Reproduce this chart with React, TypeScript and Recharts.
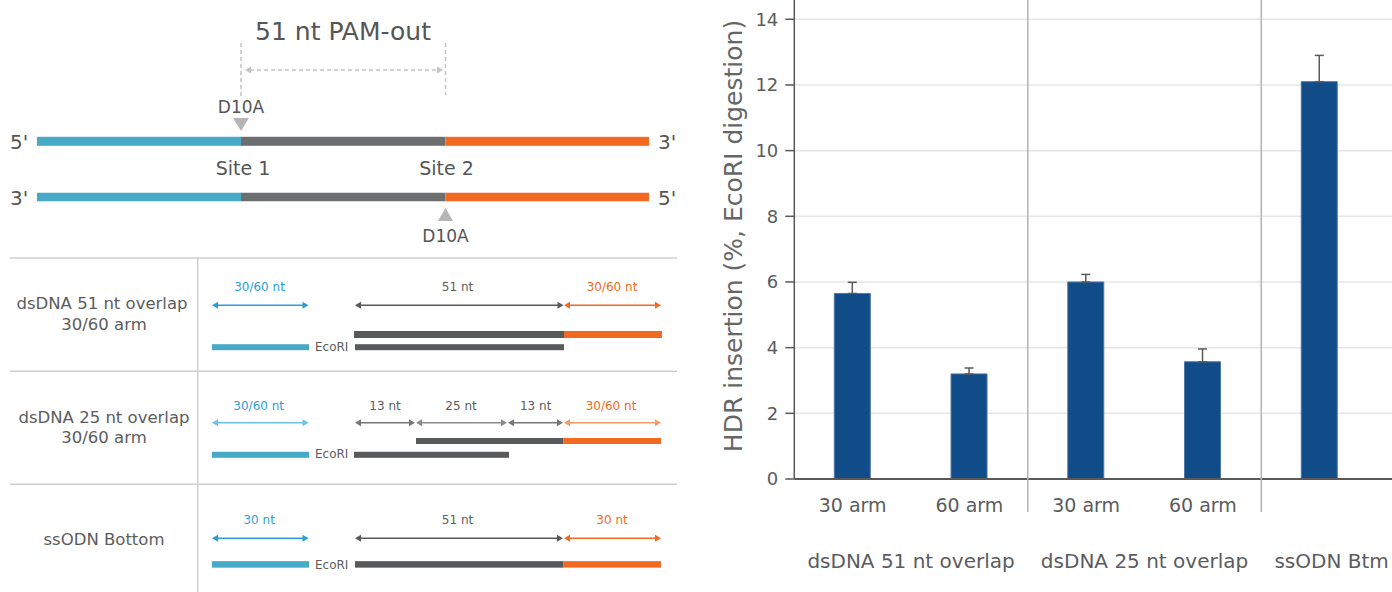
import { BarChart, Bar, ErrorBar, XAxis, YAxis, CartesianGrid } from "recharts";

// chart values
const armLabels = ["30 arm", "60 arm", "30 arm", "60 arm", ""];
const groupLabels = ["dsDNA 51 nt overlap", "dsDNA 25 nt overlap", "ssODN Btm"];
const groupOf = [0, 0, 1, 1, 2];
const hdrPct = [5.65, 3.2, 6.0, 3.57, 12.1];
const errUp = [0.34, 0.18, 0.23, 0.39, 0.8];
const yTicks = [0, 2, 4, 6, 8, 10, 12, 14];

const rows = hdrPct.map((v, i) => ({
  id: `c${i}`,
  arm: armLabels[i],
  group: groupOf[i],
  hdr: v,
  err: [0, errUp[i]],
}));

const FONT = "'DejaVu Sans', 'Open Sans', sans-serif";
const TXT = "#5b5c5e";

// chart geometry
const CW = 700;
const CH = 672;
const Y_AXIS_W = 94.3;
const X_AXIS_H = 113;
const PAD_R = 22;
const BAND = (CW - Y_AXIS_W - PAD_R) / rows.length;
const PLOT_BOTTOM = CH - X_AXIS_H;
const GROUP_NUDGE = [0, 0, 12]; // last group label sits a bit right of its bar

function ArmTick(props: any) {
  const { x, y, payload } = props;
  const i = payload.index;
  const r = rows[i];
  const showGroup = i === 0 || groupOf[i] !== groupOf[i - 1];
  const lastInGroup = i < rows.length - 1 && groupOf[i] !== groupOf[i + 1];
  const groupSize = groupOf.filter((g) => g === r.group).length;
  const gx = x + ((groupSize - 1) * BAND) / 2 + GROUP_NUDGE[r.group];
  return (
    <g>
      {r.arm && (
        <text x={x} y={y + 33} textAnchor="middle" fontSize={19} fill={TXT} fontFamily={FONT}>
          {r.arm}
        </text>
      )}
      {showGroup && (
        <text x={gx} y={y + 89} textAnchor="middle" fontSize={20} fill={TXT} fontFamily={FONT}>
          {groupLabels[r.group]}
        </text>
      )}
      {lastInGroup && (
        <line x1={x + BAND / 2} x2={x + BAND / 2} y1={y - PLOT_BOTTOM} y2={y + 33} stroke="#b3b3b3" strokeWidth={1.5} />
      )}
    </g>
  );
}

const renderYLabel = () => (
  <text
    x={33}
    y={316}
    transform="rotate(-90 33 316)"
    textAnchor="middle"
    dominantBaseline="central"
    fontSize={25}
    fill="#666"
    fontFamily={FONT}
  >
    HDR insertion (%, EcoRI digestion)
  </text>
);

// ---------- left schematic ----------
const BLUE = "#46a9c5";
const ARROW_BLUE = "#2a9ed8";
const LIGHT_BLUE = "#6cc0ea";
const STRAND_GRAY = "#6d6e70";
const BAR_GRAY = "#58595b";
const ORANGE = "#f26a22";
const LIGHT_ORANGE = "#f59a6a";

function DArrow({ x1, x2, y, color }: { x1: number; x2: number; y: number; color: string }) {
  const h = 6;
  return (
    <g>
      <line x1={x1 + 2} x2={x2 - 2} y1={y} y2={y} stroke={color} strokeWidth={1.5} />
      <polygon points={`${x1},${y} ${x1 + h},${y - 3.5} ${x1 + h},${y + 3.5}`} fill={color} />
      <polygon points={`${x2},${y} ${x2 - h},${y - 3.5} ${x2 - h},${y + 3.5}`} fill={color} />
    </g>
  );
}

function Label({ x, y, children, size = 12, color = TXT, anchor = "middle" }: any) {
  return (
    <text x={x} y={y} fontSize={size} fill={color} textAnchor={anchor} fontFamily={FONT}>
      {children}
    </text>
  );
}

function Seg({ x1, x2, y, h, color }: any) {
  return <rect x={x1} y={y - h / 2} width={x2 - x1} height={h} fill={color} />;
}

function Schematic() {
  const L = 37, S1 = 241, S2 = 445.5, R = 649;
  return (
    <svg width={700} height={592} style={{ position: "absolute", left: 0, top: 0 }}>
      {/* top: PAM-out nick layout */}
      <Label x={343} y={40} size={25} color="#555">51 nt PAM-out</Label>
      <line x1={S1} x2={S1} y1={43} y2={97} stroke="#c4c4c4" strokeWidth={1.5} strokeDasharray="4 3" />
      <line x1={S2} x2={S2} y1={43} y2={95} stroke="#c4c4c4" strokeWidth={1.5} strokeDasharray="4 3" />
      <line x1={250} x2={438} y1={70} y2={70} stroke="#c4c4c4" strokeWidth={1.5} strokeDasharray="4 3" />
      <polygon points={`245,70 251,66.5 251,73.5`} fill="#c4c4c4" />
      <polygon points={`443,70 437,66.5 437,73.5`} fill="#c4c4c4" />

      <Label x={S1} y={113} size={17} color="#555">D10A</Label>
      <polygon points={`${S1 - 8},118 ${S1 + 8},118 ${S1},131`} fill="#b5b5b5" />
      <Seg x1={L} x2={S1} y={141.3} h={9} color={BLUE} />
      <Seg x1={S1} x2={S2} y={141.3} h={9} color={STRAND_GRAY} />
      <Seg x1={S2} x2={R} y={141.3} h={9} color={ORANGE} />
      <Label x={10} y={149} size={20} color="#555" anchor="start">5'</Label>
      <Label x={658} y={149} size={20} color="#555" anchor="start">3'</Label>

      <Label x={243} y={175} size={19} color="#555">Site 1</Label>
      <Label x={446.5} y={175} size={19} color="#555">Site 2</Label>

      <Seg x1={L} x2={S1} y={197} h={8.5} color={BLUE} />
      <Seg x1={S1} x2={S2} y={197} h={8.5} color={STRAND_GRAY} />
      <Seg x1={S2} x2={R} y={197} h={8.5} color={ORANGE} />
      <Label x={10} y={205} size={20} color="#555" anchor="start">3'</Label>
      <Label x={658} y={205} size={20} color="#555" anchor="start">5'</Label>
      <polygon points={`${S2 - 7.5},221 ${S2 + 7.5},221 ${S2},208`} fill="#b5b5b5" />
      <Label x={S2} y={242} size={17} color="#555">D10A</Label>

      {/* table */}
      {[258, 371.3, 484.3].map((y) => (
        <line key={y} x1={10} x2={677} y1={y} y2={y} stroke="#cfcfcf" strokeWidth={1.5} />
      ))}
      <line x1={197.7} x2={197.7} y1={258} y2={592} stroke="#cfcfcf" strokeWidth={1.5} />

      {/* row 1 */}
      <Label x={102} y={309} size={16.5}>dsDNA 51 nt overlap</Label>
      <Label x={104} y={330} size={16.5}>30/60 arm</Label>
      <Label x={259.5} y={291} color={ARROW_BLUE}>30/60 nt</Label>
      <Label x={457.5} y={291}>51 nt</Label>
      <Label x={612} y={291} color={ORANGE}>30/60 nt</Label>
      <DArrow x1={212} x2={308.5} y={305.3} color={ARROW_BLUE} />
      <DArrow x1={355} x2={563.5} y={305.3} color={BAR_GRAY} />
      <DArrow x1={564} x2={661} y={305.3} color={ORANGE} />
      <Seg x1={354} x2={564} y={334.5} h={7} color={BAR_GRAY} />
      <Seg x1={564} x2={662} y={334.5} h={7} color={ORANGE} />
      <Seg x1={212} x2={309} y={347.2} h={6} color={BLUE} />
      <Label x={315} y={351} anchor="start">EcoRI</Label>
      <Seg x1={355} x2={564} y={347.2} h={6} color={BAR_GRAY} />

      {/* row 2 */}
      <Label x={104} y={423} size={16.5}>dsDNA 25 nt overlap</Label>
      <Label x={104} y={443} size={16.5}>30/60 arm</Label>
      <Label x={258.7} y={410} color={ARROW_BLUE}>30/60 nt</Label>
      <Label x={385} y={410}>13 nt</Label>
      <Label x={461} y={410}>25 nt</Label>
      <Label x={535.7} y={410}>13 nt</Label>
      <Label x={611} y={410} color={ORANGE}>30/60 nt</Label>
      <DArrow x1={212} x2={308.5} y={422.7} color={LIGHT_BLUE} />
      <DArrow x1={355} x2={415} y={422.7} color="#777" />
      <DArrow x1={416} x2={507} y={422.7} color="#8a8a8a" />
      <DArrow x1={508} x2={563} y={422.7} color="#777" />
      <DArrow x1={564} x2={661} y={422.7} color={LIGHT_ORANGE} />
      <Seg x1={416} x2={563.5} y={441} h={6} color={BAR_GRAY} />
      <Seg x1={563.5} x2={661} y={441} h={6} color={ORANGE} />
      <Seg x1={212} x2={309} y={454.8} h={6} color={BLUE} />
      <Label x={315} y={458} anchor="start">EcoRI</Label>
      <Seg x1={354} x2={509} y={454.8} h={6} color={BAR_GRAY} />

      {/* row 3 */}
      <Label x={104} y={545} size={16.5}>ssODN Bottom</Label>
      <Label x={259.2} y={524} color={ARROW_BLUE}>30 nt</Label>
      <Label x={457.5} y={524}>51 nt</Label>
      <Label x={612} y={524} color={ORANGE}>30 nt</Label>
      <DArrow x1={212} x2={308.5} y={538.3} color={ARROW_BLUE} />
      <DArrow x1={355} x2={563} y={538.3} color={BAR_GRAY} />
      <DArrow x1={564} x2={661} y={538.3} color={ORANGE} />
      <Seg x1={212} x2={309} y={564.4} h={6.5} color={BLUE} />
      <Label x={315} y={569} anchor="start">EcoRI</Label>
      <Seg x1={355} x2={563.5} y={564.4} h={6.5} color={BAR_GRAY} />
      <Seg x1={563.5} x2={661} y={564.4} h={6.5} color={ORANGE} />
    </svg>
  );
}

export default function App() {
  return (
    <div
      style={{
        position: "absolute",
        left: 0,
        top: 0,
        width: 1392,
        height: 592,
        overflow: "hidden",
        background: "#fff",
        fontFamily: FONT,
      }}
    >
      <Schematic />
      <div style={{ position: "absolute", left: 700, top: -80, width: CW, height: CH }}>
        <BarChart width={CW} height={CH} data={rows} margin={{ top: 33.6, right: 0, bottom: 0, left: 0 }} barSize={36}>
          <CartesianGrid vertical={false} stroke="#e6e6e6" strokeWidth={1.5} />
          <XAxis
            dataKey="id"
            interval={0}
            height={X_AXIS_H}
            tickSize={0}
            tickMargin={0}
            tickLine={false}
            axisLine={{ stroke: "#58595b", strokeWidth: 2 }}
            padding={{ left: 0, right: PAD_R }}
            tick={(p: any) => <ArmTick {...p} />}
          />
          <YAxis
            domain={[0, 16]}
            ticks={yTicks}
            width={Y_AXIS_W}
            tickSize={9}
            tickMargin={7}
            tick={{ fill: TXT, fontSize: 18, fontFamily: FONT }}
            axisLine={{ stroke: "#58595b", strokeWidth: 1.5 }}
            tickLine={{ stroke: "#58595b", strokeWidth: 1.5 }}
            label={renderYLabel}
            allowDataOverflow
          />
          <Bar dataKey="hdr" fill="#0f4c88" stroke="#4f76a6" strokeWidth={1} isAnimationActive={false}>
            <ErrorBar dataKey="err" direction="y" width={4.5} stroke="#58595b" strokeWidth={1.5} isAnimationActive={false} />
          </Bar>
        </BarChart>
      </div>
    </div>
  );
}
